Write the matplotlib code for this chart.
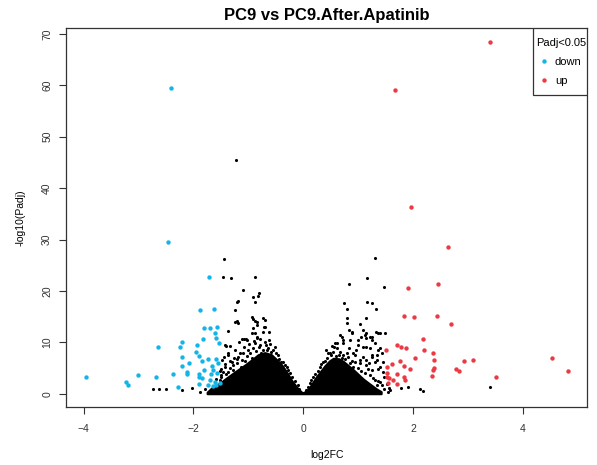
import matplotlib
matplotlib.use("Agg")
import matplotlib.pyplot as plt
from matplotlib.patches import Rectangle

plt.rcParams['font.family'] = ['Liberation Sans', 'DejaVu Sans']

# significant down-regulated genes (log2FC, -log10 padj)
down_x = [-2.415, -2.46, -1.71, -1.88, -1.63, -1.81, -1.69, -1.57, -1.61, -1.58,
          -1.53, -1.83, -1.94, -2.20, -2.25, -2.64, -2.21, -1.95, -1.90, -1.84,
          -2.08, -2.21, -2.11, -2.11, -2.38, -2.68, -3.00, -3.23, -3.20, -3.96,
          -2.28, -1.73, -1.59, -1.55, -1.66, -1.64, -1.68, -1.57, -1.89, -1.90,
          -1.85, -1.81, -1.69, -1.73, -1.64, -1.58, -1.52, -1.89, -1.61]
down_y = [59.4, 29.6, 22.8, 16.3, 16.5, 12.7, 12.8, 13.0, 11.75, 10.8,
          9.8, 10.65, 9.5, 10.0, 9.0, 9.0, 7.2, 8.2, 7.3, 6.4,
          6.0, 5.3, 4.3, 3.8, 3.8, 3.3, 3.6, 2.2, 1.6, 3.3,
          1.4, 6.75, 6.75, 6.0, 5.4, 4.7, 3.8, 4.0, 3.8, 3.2,
          3.1, 4.6, 2.7, 1.6, 1.5, 1.7, 2.0, 1.9, 2.3]

# significant up-regulated genes
up_x = [3.40, 1.67, 1.97, 2.64, 2.45, 1.91, 1.83, 2.02, 2.44, 2.69,
        2.19, 1.71, 1.78, 1.88, 1.51, 2.20, 2.36, 2.04, 2.38, 2.93,
        3.09, 4.54, 4.82, 3.52, 2.79, 2.84, 2.38, 2.36, 2.34, 1.95,
        1.83, 1.77, 1.62, 1.53, 1.71, 1.53, 1.53, 1.57, 1.64, 1.70,
        1.55, 1.83, 1.86]
up_y = [68.4, 59.0, 36.3, 28.5, 21.35, 20.5, 15.1, 14.9, 15.2, 13.6,
        10.6, 9.5, 9.1, 8.95, 8.5, 8.5, 8.0, 7.0, 6.55, 6.4,
        6.55, 6.9, 4.4, 3.3, 4.9, 4.5, 5.0, 4.7, 3.45, 4.9,
        5.4, 6.3, 5.85, 5.1, 3.8, 4.1, 3.3, 3.05, 2.65, 1.9,
        2.0, 3.3, 2.65]

# non-significant genes outside the dense core
ns_x = [-1.22, -1.44, -1.46, -1.32, -0.87, -1.09, -0.81, -0.82, -0.91, -1.18,
        -1.21, -0.88, -1.24, -1.21, -1.18, -0.94, -0.91, -0.88, -0.85, -1.37,
        -0.72, -0.74, -0.91, -0.88, -0.85, -1.07, -1.04, -1.17, -1.41, -1.34,
        -1.37, -1.44, -1.48, -1.43, -1.49, -1.24, -1.15, -2.03, -1.88, -2.73,
        -2.62, -2.49, -2.21, -1.78, -1.24, -0.85, -0.70, -0.62, -0.73, -0.70,
        -1.11, -1.03, -0.94, -0.85, -0.88, -0.79, -0.70, -1.43, -1.37, -1.18,
        -1.09, -1.00, -1.30, -1.21, -1.12, -0.94, -1.43, -1.37, -1.49, -1.27,
        -0.64, -0.52, -0.58, -0.46, -0.73, -0.36, -0.30, -0.24, -1.52, -1.55,
        -1.50, -1.46, -1.40, -1.33, -1.28, -1.20, -1.14, -1.06, -1.02, -0.97,
        -0.92, -0.86, -0.80, -0.76, -0.68, -0.66, -0.60, -0.55, -0.50, -0.44,
        -0.40, -0.33, -0.27, -0.20, -0.15, -0.10, -0.07, -0.98, -0.90, -0.78,
        -0.62, -1.08, -1.26, -1.34, -1.52, -1.58, -1.62, -1.68, -1.45,
        1.31, 1.16, 0.84, 1.47, 0.75, 1.17, 1.25, 0.79, 1.32, 0.79,
        1.14, 0.79, 1.03, 0.83, 0.88, 1.09, 1.21, 1.25, 1.32, 1.40,
        1.49, 1.12, 1.15, 0.73, 0.70, 1.00, 0.58, 0.52, 1.09, 1.21,
        1.37, 1.34, 1.43, 1.25, 1.15, 1.31, 1.40, 1.45, 1.40, 1.55,
        1.57, 1.79, 1.91, 2.13, 2.19, 3.41, 0.61, 0.67, 0.49, 0.73,
        0.91, 0.97, 1.03, 0.85, 0.67, 0.88, 1.06, 1.15, 1.25, 1.37,
        0.61, 0.73, 0.85, 1.00, 1.15, 1.31, 1.40, 0.46, 0.79, 0.94,
        1.09, 1.25, 1.34, 1.03, 1.15, 1.25, 1.37, 1.31, 1.34, 1.58,
        1.12, 0.91, 0.36, 0.30, 0.18, 0.12,
        0.05, 0.08, 0.15, 0.21, 0.27, 0.33, 0.40, 0.44, 0.50, 0.55,
        0.60, 0.65, 0.70, 0.77, 0.82, 0.88, 0.95, 1.00, 1.06, 1.18,
        1.22, 1.28, 1.36, 1.44, 1.48, 1.52, 0.42, 0.57, 0.83, 1.20,
        1.46, 1.48]
ns_y = [45.5, 26.15, 22.65, 22.45, 22.8, 20.2, 19.65, 19.0, 18.9, 18.1,
        17.85, 17.8, 16.3, 14.15, 13.7, 14.9, 14.5, 14.2, 13.9, 12.25,
        12.9, 12.1, 12.7, 11.75, 10.8, 10.6, 10.6, 10.1, 9.3, 9.3,
        8.0, 7.2, 6.55, 5.8, 4.9, 8.5, 7.85, 1.2, 0.4, 0.85,
        1.0, 0.85, 0.7, 0.85, 14.0, 13.4, 12.9, 12.1, 14.7, 14.3,
        10.6, 10.45, 11.75, 11.1, 9.8, 9.5, 10.1, 9.5, 7.5, 7.2,
        7.85, 8.5, 6.2, 5.9, 6.55, 6.9, 5.25, 4.3, 3.6, 4.6,
        8.8, 9.1, 8.2, 7.5, 8.5, 6.2, 5.25, 4.0, 2.7, 1.7,
        3.2, 4.2, 3.9, 5.0, 5.6, 6.8, 5.2, 6.3, 7.4, 7.9,
        8.8, 8.3, 9.0, 8.0, 9.4, 8.6, 9.6, 8.6, 7.9, 6.8,
        6.2, 5.6, 4.7, 3.3, 2.4, 1.6, 1.0, 9.6, 10.2, 10.6,
        10.4, 9.1, 7.0, 6.4, 4.4, 2.9, 1.0, 0.6, 1.5,
        26.35, 22.6, 21.3, 20.8, 17.6, 17.9, 17.7, 16.4, 16.5, 14.7,
        14.7, 13.8, 13.6, 12.4, 12.0, 12.4, 11.1, 10.45, 12.1, 11.9,
        11.75, 11.4, 10.8, 10.45, 11.1, 10.45, 9.8, 9.3, 9.0, 8.8,
        8.5, 7.5, 7.85, 7.2, 6.55, 6.2, 5.25, 4.3, 2.3, 0.4,
        1.05, 1.05, 1.35, 0.85, 0.5, 1.3, 8.8, 8.2, 7.85, 7.5,
        7.85, 8.5, 6.55, 5.9, 11.4, 11.75, 11.1, 11.75, 11.1, 11.75,
        9.8, 9.8, 10.45, 9.5, 9.15, 9.8, 8.8, 7.85, 7.85, 7.5,
        7.2, 7.5, 6.55, 5.9, 5.6, 4.6, 4.9, 2.7, 1.7, 0.7,
        4.0, 5.25, 6.2, 5.25, 3.3, 2.0,
        0.8, 1.4, 2.6, 3.9, 4.4, 5.7, 6.4, 7.0, 7.6, 8.1,
        7.4, 7.6, 7.0, 6.8, 7.1, 6.4, 6.2, 5.0, 4.4, 4.8,
        3.6, 3.0, 2.4, 1.6, 0.9, 1.8, 8.6, 9.0, 8.9, 6.0,
        6.2, 3.2]

# outline of the solid mass of non-significant genes
core_x = [-1.75, -1.67, -1.50, -1.43, -1.25, -1.06, -0.90, -0.82, -0.70, -0.58,
          -0.48, -0.39, -0.30, -0.21, -0.12, -0.03, 0.0, 0.05, 0.12, 0.24,
          0.32, 0.40, 0.48, 0.55, 0.65, 0.73, 0.82, 0.91, 1.00, 1.09,
          1.20, 1.34, 1.42]
core_top = [0.3, 1.1, 2.2, 2.8, 4.2, 5.6, 6.9, 7.6, 8.0, 7.6,
            6.6, 5.6, 4.2, 2.6, 1.3, 0.3, 0.2, 0.5, 1.3, 3.3,
            4.4, 5.5, 6.4, 6.9, 6.8, 6.3, 5.5, 4.7, 3.8, 2.9,
            2.0, 0.9, 0.4]
core_bottom = [0.0] * len(core_x)

blue = '#12b5e8'
red = '#ec3a44'

fig = plt.figure(figsize=(5.97, 4.65), dpi=100)
ax = fig.add_axes([0.1106, 0.1247, 0.8727, 0.8151])

ax.fill_between(core_x, core_bottom, core_top, color='black', linewidth=1.5, edgecolor='black')
ax.scatter(ns_x, ns_y, s=5, color='black', linewidths=0)
ax.scatter(down_x, down_y, s=10, color=blue, linewidths=0, label='down')
ax.scatter(up_x, up_y, s=10, color=red, linewidths=0, label='up')

ax.set_xlim(-4.32, 5.17)
ax.set_ylim(-2.59, 71.16)
ax.set_xticks([-4, -2, 0, 2, 4])
ax.set_yticks([0, 10, 20, 30, 40, 50, 60, 70])
ax.tick_params(axis='both', direction='out', length=5, width=0.8, labelsize=7.5, colors='#333333')
ax.tick_params(axis='x', pad=7)
ax.tick_params(axis='y', pad=5)
for lab in ax.get_yticklabels():
    lab.set_rotation(90)
    lab.set_va('center')
for sp in ax.spines.values():
    sp.set_linewidth(0.9)
    sp.set_color('#333333')

ax.set_title('PC9 vs PC9.After.Apatinib', fontsize=12, fontweight='bold', pad=6)
ax.set_xlabel('log2FC', fontsize=7.5, labelpad=12)
ax.set_ylabel('-log10(Padj)', fontsize=7.5, labelpad=12)

# legend box drawn like R's legend(): tight frame, roomy rows
ax.add_patch(Rectangle((0.896, 0.823), 0.104, 0.177, transform=ax.transAxes,
                       facecolor='white', edgecolor='#333333', linewidth=0.9, zorder=4))
leg = ax.legend(loc='upper center', bbox_to_anchor=(0.95, 0.98), borderaxespad=0,
                title='Padj<0.05', fontsize=8, title_fontsize=8, frameon=False,
                scatterpoints=1, handlelength=0.6, handletextpad=0.7, borderpad=0.2,
                labelspacing=0.75, handleheight=1.0)
leg.set_zorder(5)

fig.savefig('out.png', dpi=100)
